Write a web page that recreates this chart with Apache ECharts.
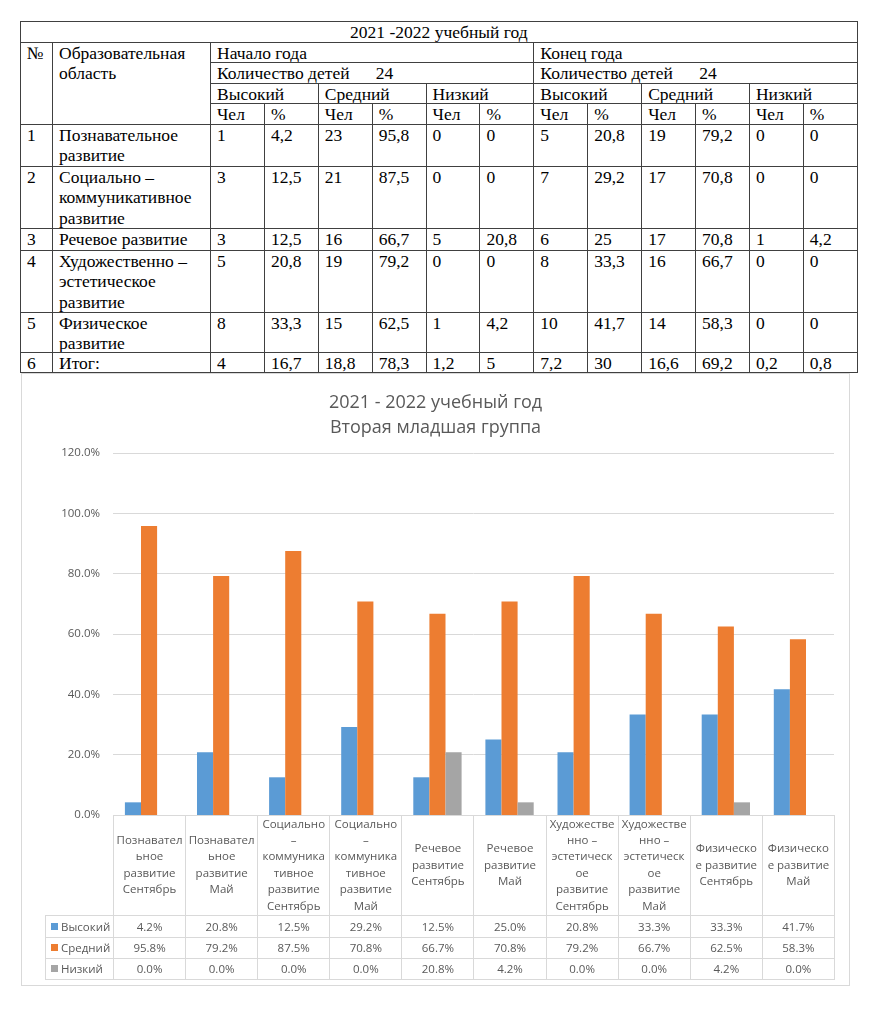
<!DOCTYPE html>
<html><head><meta charset="utf-8">
<script src="https://cdn.jsdelivr.net/npm/echarts@6/dist/echarts.min.js"></script>
<style>
html,body{margin:0;padding:0;background:#fff;}
body{width:872px;height:1024px;position:relative;overflow:hidden;}
#tbl{position:absolute;left:20px;top:21px;border-collapse:collapse;table-layout:fixed;width:837px;font-family:"Liberation Serif","Times New Roman",Times,"DejaVu Serif","Noto Serif",serif;font-size:17.5px;color:#000;}
#tbl td{border:1px solid #404040;padding:0;vertical-align:top;white-space:nowrap;overflow:hidden;box-sizing:border-box;}
#tbl td .c{height:0;overflow:visible;padding:0 0 0 6px;line-height:20.3px;font-family:"Liberation Serif","Times New Roman",Times,"DejaVu Serif",serif;}
#tbl td.ctr .c{text-align:center;padding-left:0;}
#chartBox{position:absolute;left:21px;top:373px;width:827px;height:611px;border:1px solid #d9d9d9;}
#chart{width:827px;height:611px;}
#dt{position:absolute;left:45px;top:815px;border-collapse:collapse;table-layout:fixed;width:789px;font-family:"Open Sans",sans-serif;font-size:11.5px;color:#595959;pointer-events:none;}
#dt td{border:1px solid #d9d9d9;padding:0;text-align:center;vertical-align:middle;white-space:nowrap;overflow:hidden;box-sizing:border-box;}
#dt tr.hd td{border-top:none;line-height:16.4px;}
#dt tr.hd td.lg{border:none;border-bottom:1px solid #d9d9d9;}
#dt td.nm{text-align:left;padding-left:5px;}
#dt .sq{display:inline-block;width:7px;height:7px;margin-right:3px;vertical-align:1px;}
</style></head>
<body>
<table id="tbl"></table>
<div id="chartBox"><div id="chart"></div></div>
<table id="dt"></table>
<script>
// ---------- top table data ----------
var tableTitle = "2021 -2022 учебный год";
var areaNames = ["Познавательное<br>развитие", "Социально –<br>коммуникативное<br>развитие", "Речевое развитие", "Художественно –<br>эстетическое<br>развитие", "Физическое<br>развитие", "Итог:"];
var rowNums = ["1", "2", "3", "4", "5", "6"];
var startVals = [
  ["1", "4,2", "23", "95,8", "0", "0"],
  ["3", "12,5", "21", "87,5", "0", "0"],
  ["3", "12,5", "16", "66,7", "5", "20,8"],
  ["5", "20,8", "19", "79,2", "0", "0"],
  ["8", "33,3", "15", "62,5", "1", "4,2"],
  ["4", "16,7", "18,8", "78,3", "1,2", "5"]
];
var endVals = [
  ["5", "20,8", "19", "79,2", "0", "0"],
  ["7", "29,2", "17", "70,8", "0", "0"],
  ["6", "25", "17", "70,8", "1", "4,2"],
  ["8", "33,3", "16", "66,7", "0", "0"],
  ["10", "41,7", "14", "58,3", "0", "0"],
  ["7,2", "30", "16,6", "69,2", "0,2", "0,8"]
];
var levelNames = ["Высокий", "Средний", "Низкий"];

// ---------- chart data ----------
var chartTitle = "2021 - 2022 учебный год";
var chartSubtitle = "Вторая младшая группа";
var categories = [
  "Познавател\nьное\nразвитие\nСентябрь",
  "Познавател\nьное\nразвитие\nМай",
  "Социально\n–\nкоммуника\nтивное\nразвитие\nСентябрь",
  "Социально\n–\nкоммуника\nтивное\nразвитие\nМай",
  "Речевое\nразвитие\nСентябрь",
  "Речевое\nразвитие\nМай",
  "Художестве\nнно –\nэстетическ\nое\nразвитие\nСентябрь",
  "Художестве\nнно –\nэстетическ\nое\nразвитие\nМай",
  "Физическо\nе развитие\nСентябрь",
  "Физическо\nе развитие\nМай"
];
var high = [4.2, 20.8, 12.5, 29.2, 12.5, 25.0, 20.8, 33.3, 33.3, 41.7];
var mid  = [95.8, 79.2, 87.5, 70.8, 66.7, 70.8, 79.2, 66.7, 62.5, 58.3];
var low  = [0.0, 0.0, 0.0, 0.0, 20.8, 4.2, 0.0, 0.0, 4.2, 0.0];
var yTicks = [0, 20, 40, 60, 80, 100, 120];
var seriesColors = ["#5B9BD5", "#ED7D31", "#A5A5A5"];

// ---------- build top table ----------
function cell(txt, attrs) { return '<td' + (attrs ? ' ' + attrs : '') + '><div class="c">' + txt + '</div></td>'; }
(function(){
  var t = document.getElementById('tbl');
  var h = '<colgroup><col style="width:32px"><col style="width:158px">';
  for (var i = 0; i < 12; i++) h += '<col style="width:53.9px">';
  h += '</colgroup>';
  h += '<tr style="height:21px">' + cell(tableTitle, 'colspan="14" class="ctr"') + '</tr>';
  h += '<tr style="height:20px">' + cell('№', 'rowspan="4"') + cell('Образовательная<br>область', 'rowspan="4"') + cell('Начало года', 'colspan="6"') + cell('Конец года', 'colspan="6"') + '</tr>';
  var kd = 'Количество детей&nbsp;&nbsp;&nbsp;&nbsp;&nbsp;&nbsp;24';
  h += '<tr style="height:21px">' + cell(kd, 'colspan="6"') + cell(kd, 'colspan="6"') + '</tr>';
  h += '<tr style="height:20px">';
  for (var k = 0; k < 2; k++) levelNames.forEach(function(n){ h += cell(n, 'colspan="2"'); });
  h += '</tr><tr style="height:21px">';
  for (var k = 0; k < 6; k++) h += cell('Чел') + cell('%');
  h += '</tr>';
  var rh = [42, 62, 22, 62, 40, 20];
  for (var r = 0; r < 6; r++) {
    h += '<tr style="height:' + rh[r] + 'px">' + cell(rowNums[r]) + cell(areaNames[r]);
    startVals[r].forEach(function(v){ h += cell(v); });
    endVals[r].forEach(function(v){ h += cell(v); });
    h += '</tr>';
  }
  t.innerHTML = h;
})();

// ---------- build chart data table ----------
(function(){
  var t = document.getElementById('dt');
  var h = '<colgroup><col style="width:68px">';
  for (var i = 0; i < categories.length; i++) h += '<col style="width:72.1px">';
  h += '</colgroup><tr class="hd" style="height:100px"><td class="lg"></td>';
  categories.forEach(function(c){ h += '<td>' + c.replace(/\n/g, '<br>') + '</td>'; });
  h += '</tr>';
  var rows = [high, mid, low], rhs = [22, 21, 21];
  rows.forEach(function(arr, i){
    h += '<tr style="height:' + rhs[i] + 'px"><td class="nm"><span class="sq" style="background:' + seriesColors[i] + '"></span>' + levelNames[i] + '</td>';
    arr.forEach(function(v){ h += '<td>' + v.toFixed(1) + '%</td>'; });
    h += '</tr>';
  });
  t.innerHTML = h;
})();

// ---------- chart ----------
var chart = echarts.init(document.getElementById('chart'));
var font = '"Open Sans", sans-serif';
chart.setOption({
  animation: false,
  textStyle: { fontFamily: font },
  title: {
    text: chartTitle, subtext: chartSubtitle, left: 'center', top: 12, itemGap: 1,
    textStyle: { fontSize: 18, fontWeight: 'normal', color: '#595959', lineHeight: 24, fontFamily: font },
    subtextStyle: { fontSize: 18, color: '#595959', lineHeight: 24, fontFamily: font }
  },
  grid: { left: 91, right: 15, top: 79, bottom: 170 },
  xAxis: {
    type: 'category', data: categories,
    axisLine: { show: false }, axisTick: { show: false }, axisLabel: { show: false }
  },
  yAxis: {
    type: 'value', min: yTicks[0], max: yTicks[yTicks.length - 1], interval: 20,
    axisLine: { show: false }, axisTick: { show: false },
    axisLabel: { color: '#595959', fontSize: 11.5, margin: 13, fontFamily: font,
      formatter: function(v){ return v.toFixed(1) + '%'; } },
    splitLine: { lineStyle: { color: '#d9d9d9', width: 1 } }
  },
  series: [
    { name: levelNames[0], type: 'bar', data: high, barGap: '0%', barCategoryGap: '33%', itemStyle: { color: seriesColors[0] } },
    { name: levelNames[1], type: 'bar', data: mid, barGap: '0%', barCategoryGap: '33%', itemStyle: { color: seriesColors[1] } },
    { name: levelNames[2], type: 'bar', data: low, barGap: '0%', barCategoryGap: '33%', itemStyle: { color: seriesColors[2] } }
  ]
});
</script>
</body></html>
